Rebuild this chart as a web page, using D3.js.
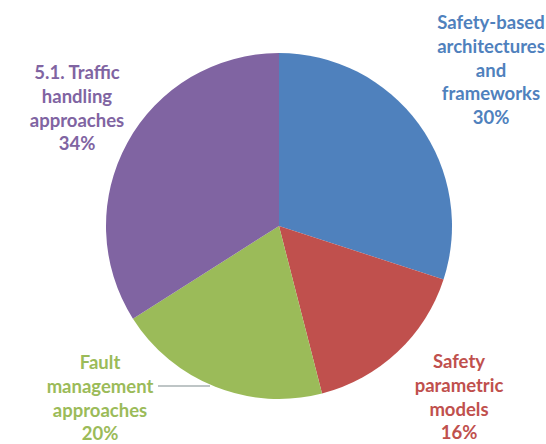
<!DOCTYPE html>
<html>
<head>
<meta charset="utf-8">
<script src="https://cdn.jsdelivr.net/npm/d3@7"></script>
<style>
  body { margin: 0; background: #fff; }
  text { font-family: Lato, "Open Sans", sans-serif; font-weight: bold; }
</style>
</head>
<body>
<div id="chart"></div>
<script>
// data
var categories = ["Safety-based architectures and frameworks", "Safety parametric models", "Fault management approaches", "5.1. Traffic handling approaches"];
var values = [30, 16, 20, 34];
var labelLines = [
  ["Safety-based", "architectures", "and", "frameworks", "30%"],
  ["Safety", "parametric", "models", "16%"],
  ["Fault", "management", "approaches", "20%"],
  ["5.1. Traffic", "handling", "approaches", "34%"]
];
var colors = ["#4F81BD", "#C0504D", "#9BBB59", "#8064A2"];

var width = 546, height = 444;
var cx = 279, cy = 226, radius = 173;

// where each label block sits (center x, first line y)
var labelPos = [[491, 29], [459, 368], [100, 369], [77, 79]];
var lineH = 23.8;

var svg = d3.select("#chart")
    .append("svg")
    .attr("width", width)
    .attr("height", height);

var pie = d3.pie().sort(null).value(function (d) { return d; });
var arc = d3.arc().innerRadius(0).outerRadius(radius);

var g = svg.append("g")
    .attr("transform", "translate(" + cx + "," + cy + ")");

g.selectAll("path")
    .data(pie(values))
    .enter()
    .append("path")
    .attr("d", arc)
    .attr("fill", function (d, i) { return colors[i]; });

// leader line for the green slice
svg.append("line")
    .attr("x1", 158).attr("y1", 386)
    .attr("x2", 210).attr("y2", 386)
    .attr("stroke", "#7f8c8d")
    .attr("stroke-width", 1.2);

// labels
labelLines.forEach(function (lines, i) {
    var t = svg.append("text")
        .attr("text-anchor", "middle")
        .attr("font-size", "18.5px")
        .attr("fill", colors[i]);
    lines.forEach(function (s, j) {
        t.append("tspan")
            .attr("x", labelPos[i][0])
            .attr("y", labelPos[i][1] + j * lineH)
            .text(s);
    });
});
</script>
</body>
</html>
